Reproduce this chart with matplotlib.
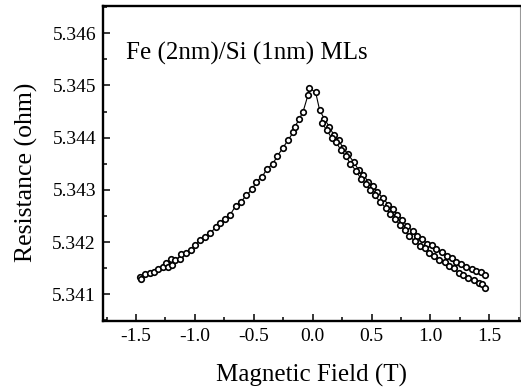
import matplotlib
matplotlib.use('Agg')
import matplotlib.pyplot as plt
from matplotlib.ticker import MultipleLocator, FormatStrFormatter

# negative fields (both sweeps overlap here)
field_neg = [-1.464, -1.455, -1.422, -1.381, -1.344, -1.310, -1.268, -1.241, -1.232,
             -1.199, -1.190, -1.165, -1.129, -1.115, -1.073, -1.031, -0.997, -0.953,
             -0.914, -0.869, -0.821, -0.785, -0.746, -0.702, -0.654, -0.612, -0.562,
             -0.514, -0.478, -0.430, -0.388, -0.338, -0.299, -0.254, -0.207, -0.165,
             -0.151, -0.115, -0.081, -0.039, -0.031]
res_neg = [5.34133, 5.34130, 5.34139, 5.34141, 5.34143, 5.34148, 5.34152, 5.34160, 5.34153,
           5.34167, 5.34157, 5.34166, 5.34167, 5.34177, 5.34180, 5.34185, 5.34194, 5.34204,
           5.34210, 5.34218, 5.34228, 5.34237, 5.34244, 5.34252, 5.34269, 5.34276, 5.34290,
           5.34301, 5.34316, 5.34325, 5.34340, 5.34350, 5.34365, 5.34380, 5.34396, 5.34410,
           5.34421, 5.34435, 5.34450, 5.34482, 5.34495]

# positive fields, upper branch
field_up = [0.025, 0.06, 0.10, 0.14, 0.18, 0.22, 0.26, 0.30, 0.35, 0.39, 0.43, 0.47,
            0.51, 0.55, 0.60, 0.64, 0.68, 0.72, 0.76, 0.80, 0.85, 0.89, 0.93, 0.97,
            1.01, 1.05, 1.10, 1.14, 1.18, 1.22, 1.26, 1.30, 1.35, 1.39, 1.43, 1.46]
res_up = [5.34487, 5.34452, 5.34436, 5.34421, 5.34405, 5.34395, 5.34380, 5.34368, 5.34353,
          5.34338, 5.34329, 5.34316, 5.34307, 5.34295, 5.34284, 5.34272, 5.34264, 5.34252,
          5.34243, 5.34231, 5.34221, 5.34211, 5.34206, 5.34197, 5.34194, 5.34187, 5.34181,
          5.34173, 5.34169, 5.34162, 5.34159, 5.34152, 5.34149, 5.34144, 5.34142, 5.34137]

# positive fields, lower branch
field_lo = [0.08, 0.12, 0.16, 0.20, 0.24, 0.28, 0.32, 0.37, 0.41, 0.45, 0.49, 0.53,
            0.57, 0.62, 0.66, 0.70, 0.74, 0.78, 0.82, 0.87, 0.91, 0.95, 0.99, 1.03,
            1.07, 1.12, 1.16, 1.20, 1.24, 1.28, 1.32, 1.37, 1.41, 1.44, 1.46]
res_lo = [5.34428, 5.34414, 5.34400, 5.34391, 5.34376, 5.34365, 5.34350, 5.34336, 5.34321,
          5.34312, 5.34299, 5.34290, 5.34277, 5.34266, 5.34253, 5.34245, 5.34233, 5.34223,
          5.34211, 5.34202, 5.34193, 5.34189, 5.34179, 5.34174, 5.34166, 5.34162, 5.34154,
          5.34150, 5.34141, 5.34137, 5.34131, 5.34127, 5.34121, 5.34119, 5.34113]

plt.rcParams['font.family'] = ['Liberation Serif', 'DejaVu Serif']

fig = plt.figure(figsize=(5.21, 3.91), dpi=100)
ax = fig.add_axes([0.1977, 0.179, 0.8003, 0.8057])

mk = dict(marker='o', ms=4.0, mew=1.2, mfc='white', mec='black', color='black', lw=0.8)
ax.plot(field_neg + field_up, res_neg + res_up, **mk)
ax.plot(field_lo, res_lo, **mk)

ax.set_xlim(-1.78, 1.76)
ax.set_ylim(5.34049, 5.34652)
ax.xaxis.set_major_locator(MultipleLocator(0.5))
ax.xaxis.set_minor_locator(MultipleLocator(0.25))
ax.yaxis.set_major_locator(MultipleLocator(0.001))
ax.yaxis.set_minor_locator(MultipleLocator(0.0005))
ax.xaxis.set_major_formatter(FormatStrFormatter('%.1f'))
ax.yaxis.set_major_formatter(FormatStrFormatter('%.3f'))

ax.tick_params(which='both', direction='in', top=False, right=False, width=1.1,
               labelsize=14, color='black')
ax.tick_params(which='major', length=5, pad=5)
ax.tick_params(which='minor', length=3)

for s in ['left', 'bottom', 'top']:
    ax.spines[s].set_linewidth(1.7)
ax.spines['right'].set_linewidth(0.8)
ax.spines['right'].set_color('#999999')

ax.set_xlabel('Magnetic Field (T)', fontsize=18, labelpad=14)
ax.set_ylabel('Resistance (ohm)', fontsize=18.5)
ax.yaxis.set_label_coords(-0.155, 0.473)

ax.text(-1.584, 5.34562, 'Fe (2nm)/Si (1nm) MLs', fontsize=18, va='center', ha='left')

fig.savefig('out.png', dpi=100)
